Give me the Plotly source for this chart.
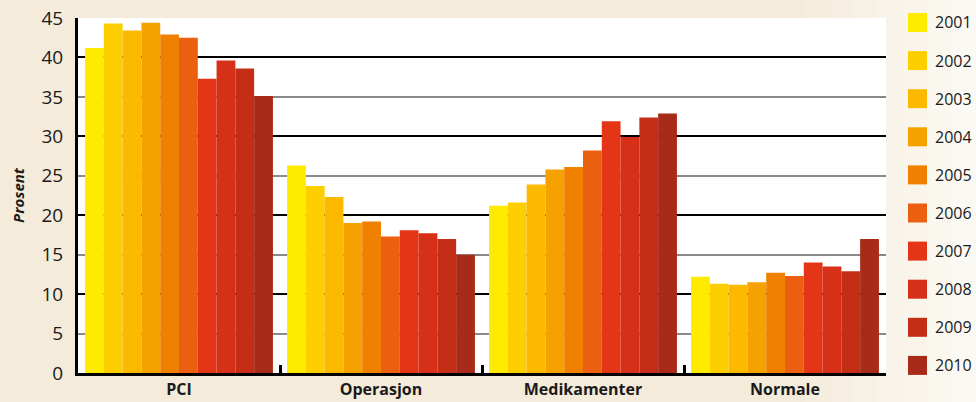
import plotly.graph_objects as go

categories = ["PCI", "Operasjon", "Medikamenter", "Normale"]
years = ["2001", "2002", "2003", "2004", "2005", "2006", "2007", "2008", "2009", "2010"]
colors = ["#FFEB00", "#FDCF00", "#FBB900", "#F5A100", "#F08000",
          "#EA5F10", "#E43517", "#D63118", "#C42E17", "#A82A18"]

pci = [41.2, 44.3, 43.4, 44.4, 42.9, 42.5, 37.3, 39.6, 38.6, 35.1]
operasjon = [26.3, 23.7, 22.3, 19.0, 19.2, 17.3, 18.1, 17.7, 17.0, 15.0]
medikamenter = [21.2, 21.6, 23.9, 25.8, 26.1, 28.2, 31.9, 29.9, 32.4, 32.9]
normale = [12.2, 11.3, 11.2, 11.5, 12.7, 12.3, 14.0, 13.5, 12.9, 17.0]

y_ticks = [0, 5, 10, 15, 20, 25, 30, 35, 40, 45]

fig = go.Figure()
for i, yr in enumerate(years):
    fig.add_trace(go.Bar(
        x=categories,
        y=[pci[i], operasjon[i], medikamenter[i], normale[i]],
        name=yr,
        marker=dict(color=colors[i], line=dict(width=0)),
        showlegend=False,
    ))
# helper trace so the overlaying axis (black gridlines every 10) is drawn
fig.add_trace(go.Scatter(x=[categories[0]], y=[0], yaxis="y2", mode="none",
                         showlegend=False, hoverinfo="skip"))

W, H = 976, 402
L, R, T, B = 78, 90, 18, 29
pw, ph = W - L - R, H - T - B

def px_x(px):
    return (px - L) / pw

def px_y(py):
    return (H - B - py) / ph

shapes = []
annotations = []

# soft background gradient on the right side
grad = ["#F4EBDA", "#F5EDDD", "#F6EFE1", "#F7F1E4", "#F8F3E8", "#F9F5EB", "#FAF7EF", "#FBF9F3"]
x0 = 780
step = (W - x0) / len(grad)
for k, c in enumerate(grad):
    a, b = x0 + k * step, x0 + (k + 1) * step + 1
    if b <= L + pw:
        for (ya, yb) in [(px_y(0), 1.0), (0.0, px_y(H))]:
            shapes.append(dict(type="rect", xref="paper", yref="paper", x0=px_x(a), x1=px_x(b),
                               y0=ya, y1=yb, fillcolor=c, line=dict(width=0), layer="below"))
    else:
        shapes.append(dict(type="rect", xref="paper", yref="paper", x0=px_x(max(a, L + pw)), x1=px_x(b),
                           y0=px_y(H), y1=px_y(0), fillcolor=c, line=dict(width=0), layer="below"))
        if a < L + pw:
            for (ya, yb) in [(px_y(0), 1.0), (0.0, px_y(H))]:
                shapes.append(dict(type="rect", xref="paper", yref="paper", x0=px_x(a), x1=1.0,
                                   y0=ya, y1=yb, fillcolor=c, line=dict(width=0), layer="below"))

# manual legend
for i, yr in enumerate(years):
    cy = 22.5 + i * 38.1
    shapes.append(dict(type="rect", xref="paper", yref="paper",
                       x0=px_x(908), x1=px_x(927), y0=px_y(cy + 9.5), y1=px_y(cy - 9.5),
                       fillcolor=colors[i], line=dict(width=0)))
    annotations.append(dict(xref="paper", yref="paper", x=px_x(933), y=px_y(cy),
                            text=yr, showarrow=False, xanchor="left", yanchor="middle",
                            font=dict(size=16, color="#1a1a1a", family="Open Sans")))

fig.update_layout(
    width=W, height=H,
    margin=dict(l=L, r=R, t=T, b=B, pad=0, autoexpand=False),
    paper_bgcolor="#F4EBDA",
    plot_bgcolor="#FFFFFF",
    bargap=0.07, bargroupgap=0,
    font=dict(family="Open Sans", color="#1a1a1a"),
    shapes=shapes,
    annotations=annotations,
    xaxis=dict(
        type="category", automargin=False,
        showline=True, linecolor="#000000", linewidth=3,
        ticks="inside", tickson="boundaries", ticklen=8, tickwidth=3, tickcolor="#000000",
        ticklabelstandoff=0,
        tickfont=dict(size=16, family="Open Sans", weight="bold", color="#1a1a1a"),
        showgrid=False,
    ),
    yaxis=dict(
        range=[0, 45], tickvals=y_ticks, automargin=False,
        showline=True, linecolor="#000000", linewidth=3,
        showgrid=True, gridcolor="#8A8A8A", gridwidth=2,
        zeroline=False,
        ticks="", ticklabelstandoff=8,
        tickfont=dict(size=19, family="Open Sans", color="#1a1a1a"),
        title=dict(text="Prosent", standoff=14,
                   font=dict(size=15, family="Open Sans", weight="bold", style="italic", color="#1a1a1a")),
    ),
    yaxis2=dict(
        range=[0, 45], overlaying="y", side="left", dtick=10, automargin=False,
        showgrid=True, gridcolor="#000000", gridwidth=1.5,
        showticklabels=False, zeroline=False, showline=False, ticks="",
    ),
)

fig.write_html("out.html", config={"displayModeBar": False},
               post_script="document.body.style.margin='0';document.body.style.padding='0';")
